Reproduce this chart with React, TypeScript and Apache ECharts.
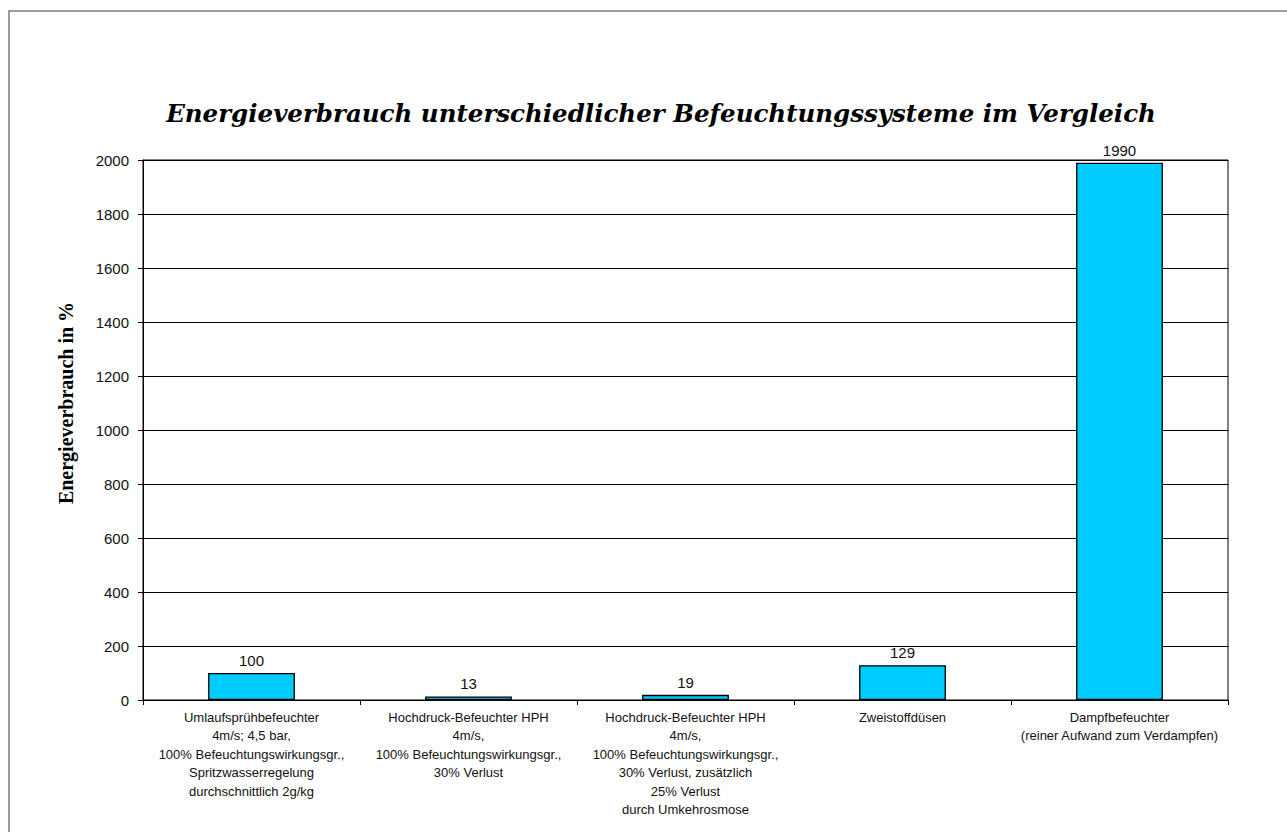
import React, { useEffect, useRef } from "react";
import * as echarts from "echarts";

const categories = [
  "Umlaufsprühbefeuchter\n4m/s; 4,5 bar,\n100% Befeuchtungswirkungsgr.,\nSpritzwasserregelung\ndurchschnittlich 2g/kg",
  "Hochdruck-Befeuchter HPH\n4m/s,\n100% Befeuchtungswirkungsgr.,\n30% Verlust",
  "Hochdruck-Befeuchter HPH\n4m/s,\n100% Befeuchtungswirkungsgr.,\n30% Verlust, zusätzlich\n25% Verlust\ndurch Umkehrosmose",
  "Zweistoffdüsen",
  "Dampfbefeuchter\n(reiner Aufwand zum Verdampfen)",
];
const values = [100, 13, 19, 129, 1990];
const titleText = "Energieverbrauch unterschiedlicher Befeuchtungssysteme im Vergleich";
const yName = "Energieverbrauch in %";

export default function App() {
  const ref = useRef<HTMLDivElement>(null);
  useEffect(() => {
    if (!ref.current) return;
    const chart = echarts.init(ref.current, null, { renderer: "svg" });
    chart.setOption({
      animation: false,
      backgroundColor: "#fff",
      grid: {
        left: 143,
        right: 59,
        top: 160,
        bottom: 132,
        show: true,
        borderColor: "#000",
        borderWidth: 1,
        backgroundColor: "transparent",
      },
      xAxis: {
        type: "category",
        data: categories,
        axisLine: { lineStyle: { color: "#000", width: 1 } },
        axisTick: { show: true, length: 5, alignWithLabel: false, lineStyle: { color: "#000" } },
        axisLabel: {
          interval: 0,
          margin: 8,
          color: "#111",
          fontFamily: "Liberation Sans, Arial, sans-serif",
          fontSize: 13,
          lineHeight: 18.5,
          align: "center",
        },
      },
      yAxis: {
        type: "value",
        min: 0,
        max: 2000,
        interval: 200,
        axisLine: { show: true, lineStyle: { color: "#000", width: 1 } },
        axisTick: { show: true, length: 5, lineStyle: { color: "#000" } },
        axisLabel: {
          margin: 14,
          color: "#111",
          fontFamily: "Liberation Sans, Arial, sans-serif",
          fontSize: 15,
          formatter: (v: number) => String(v),
        },
        splitLine: { show: true, lineStyle: { color: "#000", width: 1 } },
      },
      series: [
        {
          type: "bar",
          data: values,
          barCategoryGap: "60%",
          itemStyle: { color: "#00CCFF", borderColor: "#000", borderWidth: 1.3 },
          label: {
            show: true,
            position: "top",
            distance: 5,
            color: "#111",
            fontFamily: "Liberation Sans, Arial, sans-serif",
            fontSize: 15,
          },
        },
      ],
      graphic: [
        {
          type: "rect",
          silent: true,
          shape: { x: 9, y: 11, width: 1400, height: 1000 },
          style: { fill: "none", stroke: "#808080", lineWidth: 1.6 },
        },
        {
          type: "text",
          x: 661,
          y: 113,
          style: {
            text: titleText,
            fontFamily: "DejaVu Serif, serif",
            fontStyle: "italic",
            fontWeight: "bold",
            fontSize: 24.5,
            fill: "#000",
            textAlign: "center",
            textVerticalAlign: "middle",
          },
        },
        {
          type: "text",
          x: 66,
          y: 403,
          rotation: Math.PI / 2,
          style: {
            text: yName,
            fontFamily: "Liberation Serif, Times New Roman, serif",
            fontWeight: "bold",
            fontSize: 20,
            fill: "#000",
            textAlign: "center",
            textVerticalAlign: "middle",
          },
        },
      ],
    });
    return () => chart.dispose();
  }, []);
  return (
    <div
      ref={ref}
      style={{ position: "fixed", left: 0, top: 0, width: 1287, height: 832, background: "#fff" }}
    />
  );
}
